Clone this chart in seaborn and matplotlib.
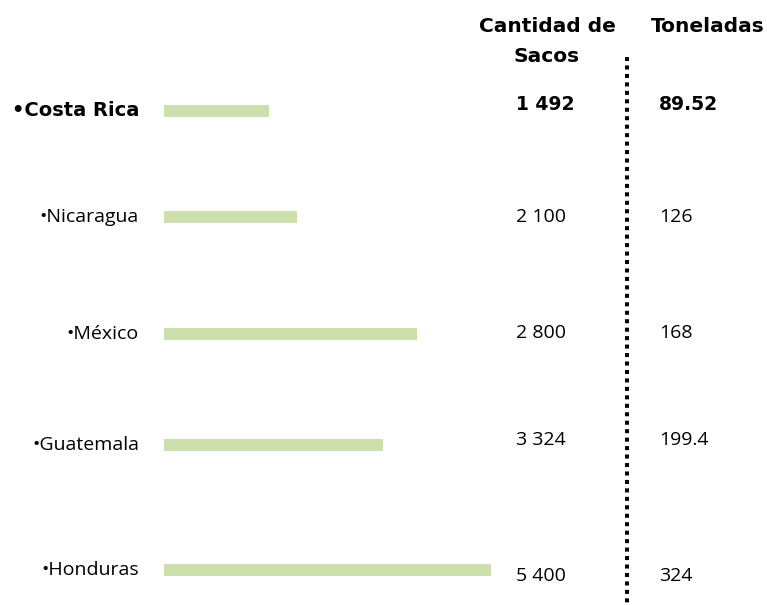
import matplotlib
matplotlib.use("Agg")
import matplotlib.pyplot as plt
import seaborn as sns
import pandas as pd

countries = ["Costa Rica", "Nicaragua", "México", "Guatemala", "Honduras"]
bar_lengths = [105, 133, 253, 219, 327]
sacos = ["1 492", "2 100", "2 800", "3 324", "5 400"]
toneladas = ["89.52", "126", "168", "199.4", "324"]
row_y = [111, 217, 334, 445, 570]
value_y = [104, 217, 333, 440, 576]

sns.set_theme(style="white")
plt.rcParams['font.family'] = ['Open Sans', 'DejaVu Sans']
plt.rcParams['text.color'] = 'black'

W, H = 767, 605
fig = plt.figure(figsize=(W / 100, H / 100), dpi=100)

# Bars axes: starts at x=164 px, 1 data unit = 1 px
bx0 = 164
ax_b = fig.add_axes([bx0 / W, 0, (W - bx0) / W, 1])
df = pd.DataFrame({"len": bar_lengths, "y": row_y, "country": countries})
sns.barplot(data=df, x="len", y="y", orient="h", native_scale=True,
            color="#cddfad", saturation=1, width=12 / 106, ax=ax_b,
            edgecolor="none")
ax_b.set_xlim(0, W - bx0)
ax_b.set_ylim(H, 0)
ax_b.axis("off")

# Text overlay axes in pixel coords
ax = fig.add_axes([0, 0, 1, 1])
ax.set_xlim(0, W)
ax.set_ylim(H, 0)
ax.axis("off")
ax.patch.set_alpha(0)

bold_font = ['DejaVu Sans']
for i, (c, y) in enumerate(zip(countries, row_y)):
    if i == 0:
        ax.text(139, y, "•" + c, ha="right", va="center", fontsize=14,
                fontweight="heavy", family=bold_font, color="black")
    else:
        ax.text(139, y, "•" + c, ha="right", va="center", fontsize=14,
                color="black")

for i, (s, t, y) in enumerate(zip(sacos, toneladas, value_y)):
    kw = dict(fontweight="heavy", family=bold_font, fontsize=13.5) if i == 0 else dict(fontsize=14)
    ax.text(516, y, s, ha="left", va="center", color="black", **kw)
    ax.text(659, y, t, ha="left", va="center", color="black", **kw)

hdr = dict(fontsize=14.5, fontweight="heavy", family=bold_font, color="black")
ax.text(547, 27, "Cantidad de", ha="center", va="center", **hdr)
ax.text(547, 57, "Sacos", ha="center", va="center", **hdr)
ax.text(708, 27, "Toneladas", ha="center", va="center", **hdr)

ax.plot([627, 627], [57, 605], color="black", linestyle=(0, (1, 1.1)),
        linewidth=2.9, dash_capstyle="butt")

fig.savefig("out.png", dpi=100)
